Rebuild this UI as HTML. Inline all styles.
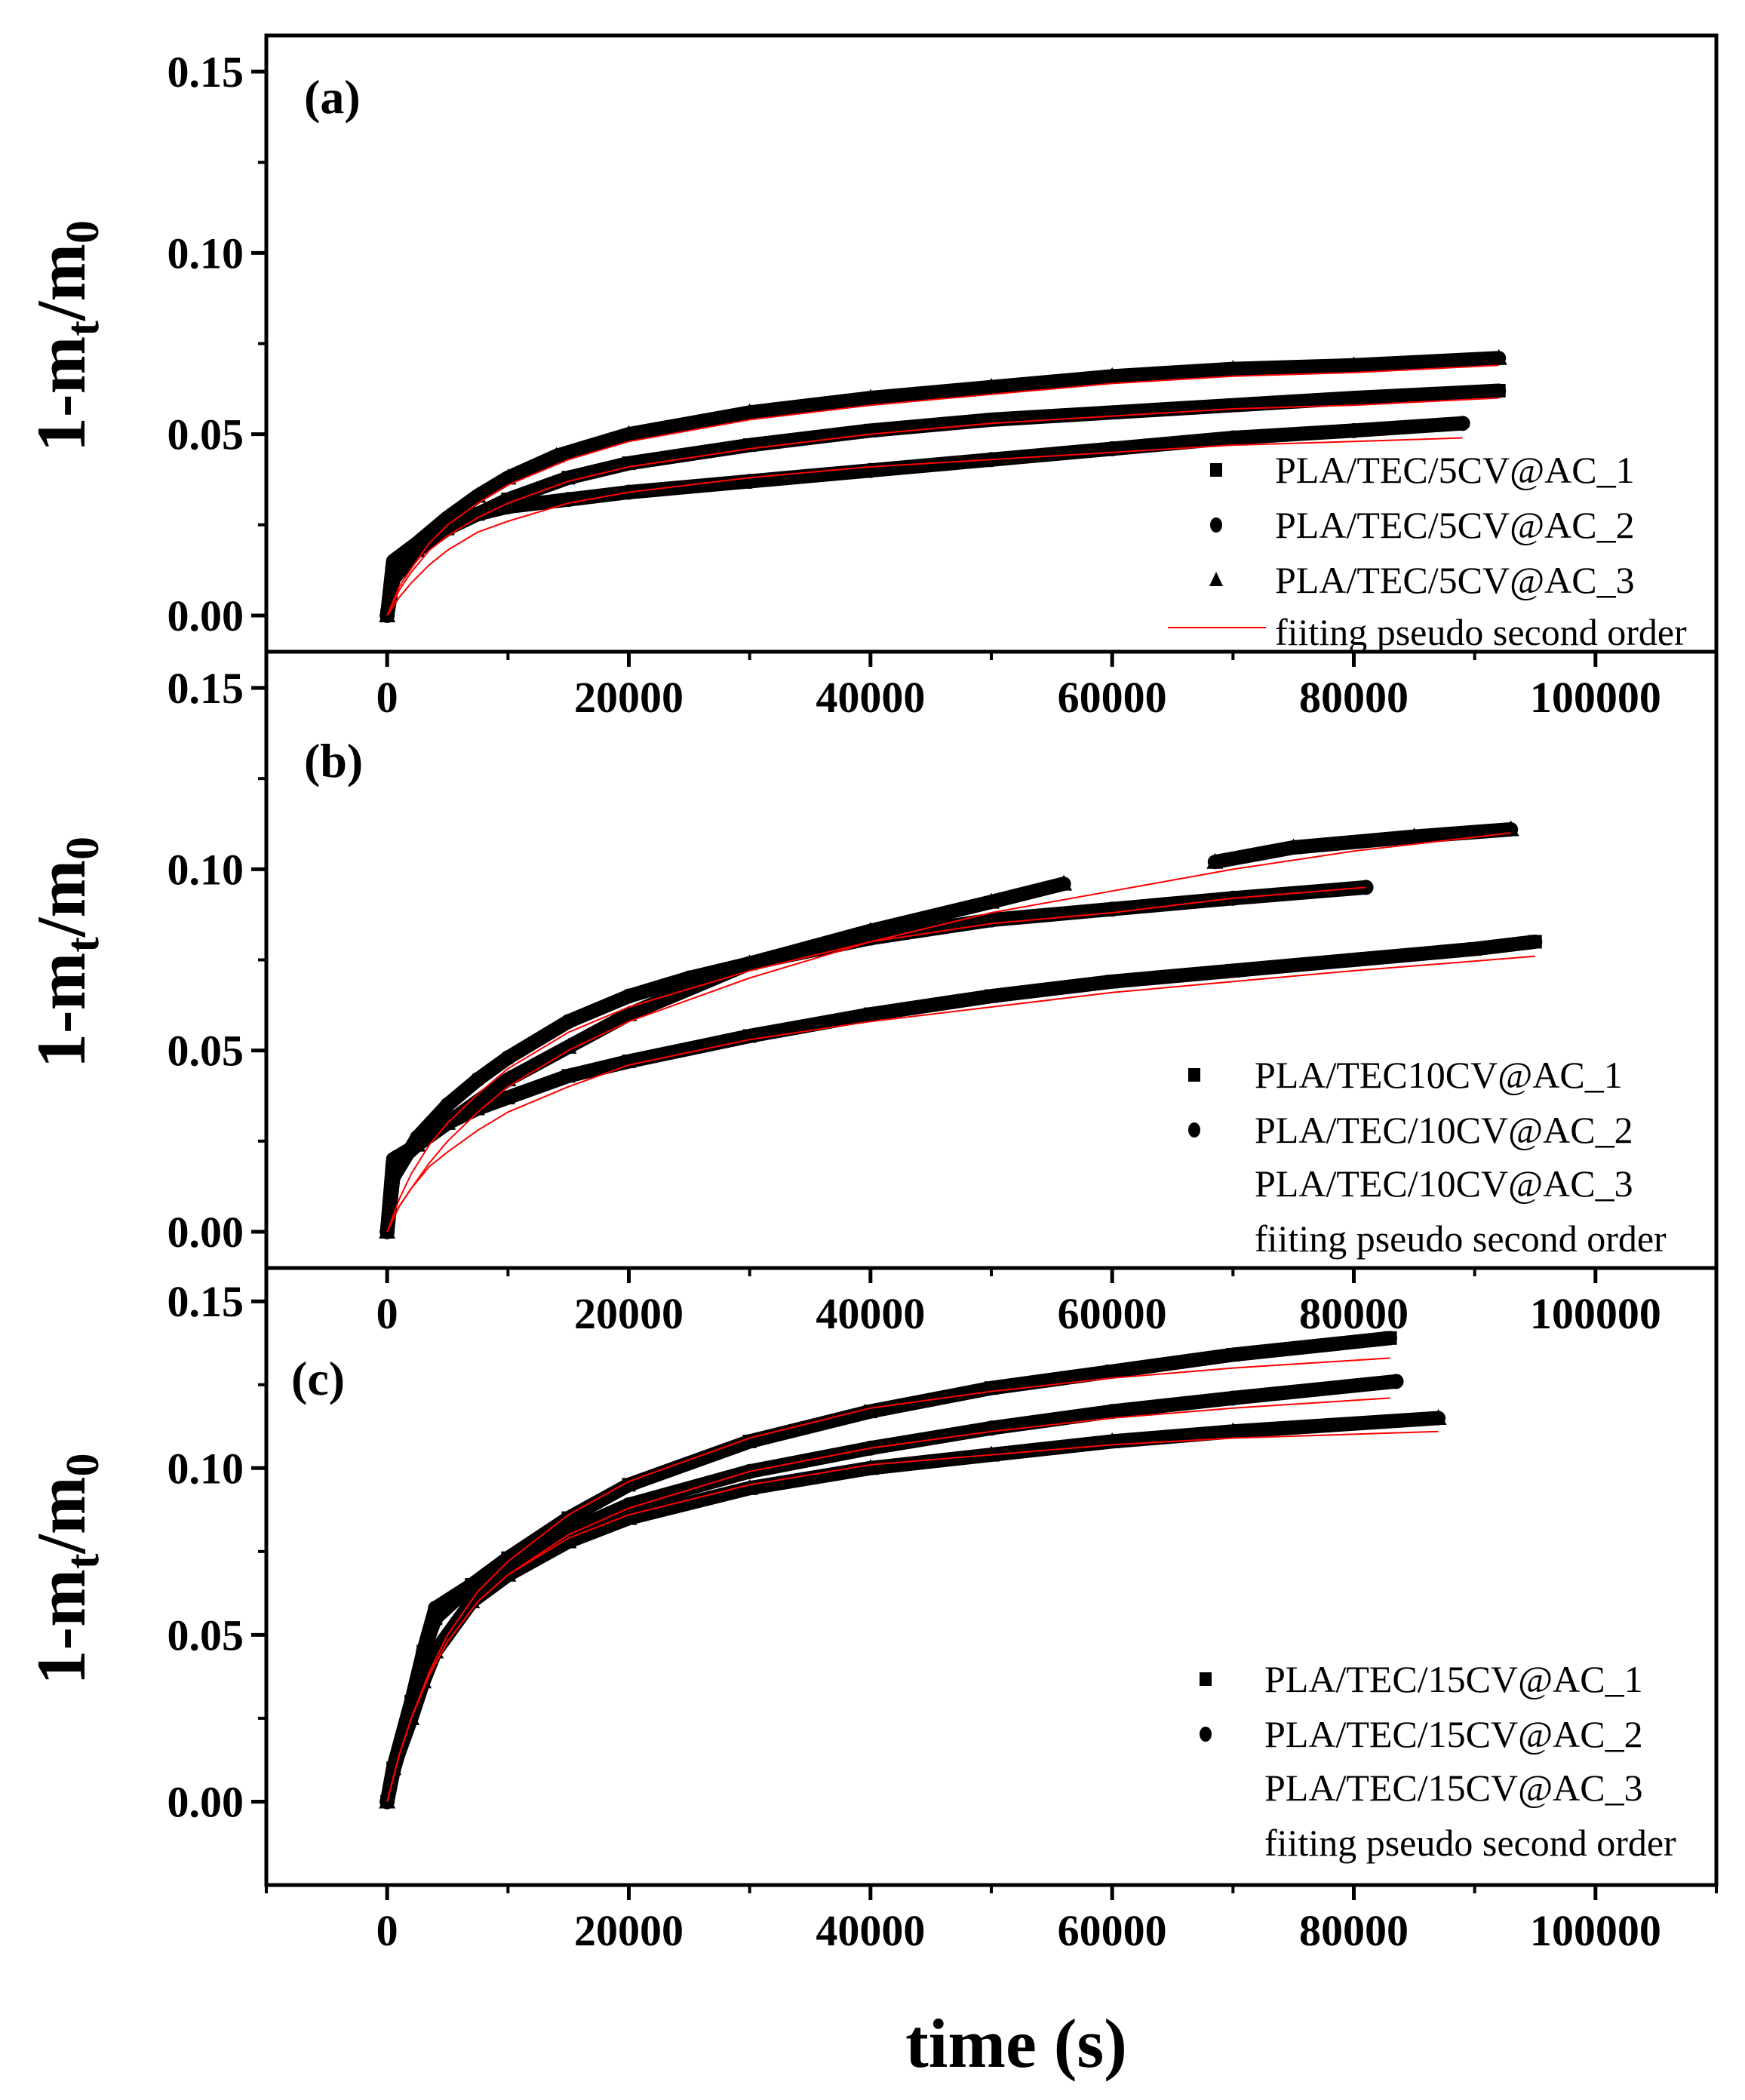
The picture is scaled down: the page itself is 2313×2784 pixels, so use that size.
<!DOCTYPE html>
<html><head><meta charset="utf-8"><style>
html,body{margin:0;padding:0;background:#fff;}
svg{display:block;}
text{font-family:"Liberation Serif",serif;}
</style></head><body>
<svg id="chart" width="2313" height="2784" viewBox="0 0 2313 2784" xmlns="http://www.w3.org/2000/svg"></svg>
<script>
// ---- data (time in s, value 1-mt/m0) ----
// Panel (a)
const aT1 = [0, 500, 2500, 5000, 7500, 10000, 15000, 20000, 30000, 40000, 50000, 60000, 70000, 80000, 92000];
const aV1 = [0, 0.012, 0.018, 0.024, 0.028, 0.032, 0.038, 0.042, 0.047, 0.051, 0.054, 0.056, 0.058, 0.060, 0.062];
const aT2 = [0, 500, 2500, 5000, 7500, 10000, 15000, 20000, 30000, 40000, 50000, 60000, 70000, 80000, 89000];
const aV2 = [0, 0.010, 0.018, 0.024, 0.028, 0.030, 0.032, 0.034, 0.037, 0.040, 0.043, 0.046, 0.049, 0.051, 0.053];
const aT3 = [0, 500, 2500, 5000, 7500, 10000, 14000, 20000, 30000, 40000, 50000, 60000, 70000, 80000, 92000];
const aV3 = [0, 0.015, 0.020, 0.027, 0.033, 0.038, 0.044, 0.050, 0.056, 0.060, 0.063, 0.066, 0.068, 0.069, 0.071];
const aFT1 = [0, 1000, 2000, 3500, 5000, 7500, 10000, 15000, 20000, 30000, 40000, 50000, 60000, 70000, 80000, 92000];
const aFV1 = [0, 0.007, 0.012, 0.018, 0.022, 0.027, 0.031, 0.037, 0.041, 0.046, 0.050, 0.053, 0.055, 0.057, 0.058, 0.060];
const aFT2 = [0, 1000, 2000, 3500, 5000, 7500, 10000, 15000, 20000, 30000, 40000, 50000, 60000, 70000, 80000, 89000];
const aFV2 = [0, 0.005, 0.009, 0.014, 0.018, 0.023, 0.026, 0.031, 0.034, 0.038, 0.041, 0.043, 0.045, 0.047, 0.048, 0.049];
const aFT3 = [0, 1000, 2000, 3500, 5000, 7500, 10000, 15000, 20000, 30000, 40000, 50000, 60000, 70000, 80000, 92000];
const aFV3 = [0, 0.008, 0.013, 0.020, 0.025, 0.031, 0.036, 0.043, 0.048, 0.054, 0.058, 0.061, 0.064, 0.066, 0.067, 0.069];
// Panel (b)
const bT1 = [0, 500, 2500, 5000, 7500, 10000, 15000, 20000, 30000, 40000, 50000, 60000, 70000, 80000, 90000, 95000];
const bV1 = [0, 0.018, 0.024, 0.030, 0.034, 0.037, 0.043, 0.047, 0.054, 0.060, 0.065, 0.069, 0.072, 0.075, 0.078, 0.080];
const bT2 = [0, 500, 2500, 5000, 7500, 10000, 15000, 20000, 25000, 30000, 40000, 50000, 60000, 70000, 81000];
const bV2 = [0, 0.015, 0.026, 0.035, 0.042, 0.048, 0.058, 0.065, 0.070, 0.074, 0.081, 0.086, 0.089, 0.092, 0.095];
const bT3 = [0, 500, 2500, 5000, 7500, 10000, 15000, 20000, 30000, 40000, 50000, 56000, null, 68500, 75000, 85000, 93000];
const bV3 = [0, 0.020, 0.024, 0.030, 0.036, 0.042, 0.051, 0.060, 0.074, 0.083, 0.091, 0.096, null, 0.102, 0.106, 0.109, 0.111];
const bFT1 = [0, 1000, 2000, 3500, 5000, 7500, 10000, 15000, 20000, 30000, 40000, 50000, 60000, 70000, 80000, 95000];
const bFV1 = [0, 0.007, 0.012, 0.018, 0.022, 0.028, 0.033, 0.040, 0.046, 0.053, 0.058, 0.062, 0.066, 0.069, 0.072, 0.076];
const bFT2 = [0, 1000, 2000, 3500, 5000, 7500, 10000, 15000, 20000, 30000, 40000, 50000, 60000, 70000, 81000];
const bFV2 = [0, 0.009, 0.016, 0.024, 0.030, 0.038, 0.045, 0.055, 0.062, 0.072, 0.080, 0.085, 0.088, 0.092, 0.095];
const bFT3 = [0, 1000, 2000, 3500, 5000, 7500, 10000, 15000, 20000, 30000, 40000, 50000, 60000, 70000, 80000, 93000];
const bFV3 = [0, 0.007, 0.012, 0.019, 0.025, 0.033, 0.040, 0.050, 0.058, 0.070, 0.080, 0.088, 0.094, 0.100, 0.105, 0.110];
// Panel (c)
const cT1 = [0, 500, 2000, 3000, 4000, 7000, 10000, 15000, 20000, 30000, 40000, 50000, 60000, 70000, 83000];
const cV1 = [0, 0.010, 0.030, 0.045, 0.055, 0.065, 0.073, 0.085, 0.095, 0.108, 0.117, 0.124, 0.129, 0.134, 0.139];
const cT2 = [0, 500, 2000, 3000, 4000, 7000, 10000, 15000, 20000, 30000, 40000, 50000, 60000, 70000, 83500];
const cV2 = [0, 0.009, 0.028, 0.045, 0.058, 0.065, 0.071, 0.081, 0.089, 0.099, 0.106, 0.112, 0.117, 0.121, 0.126];
const cT3 = [0, 500, 2000, 3000, 4000, 7000, 10000, 15000, 20000, 30000, 40000, 50000, 60000, 70000, 87000];
const cV3 = [0, 0.010, 0.025, 0.036, 0.045, 0.060, 0.068, 0.078, 0.085, 0.094, 0.100, 0.104, 0.108, 0.111, 0.115];
const cFT1 = [0, 1000, 2000, 3500, 5000, 7500, 10000, 15000, 20000, 30000, 40000, 50000, 60000, 70000, 83000];
const cFV1 = [0, 0.014, 0.025, 0.039, 0.050, 0.063, 0.072, 0.086, 0.096, 0.109, 0.118, 0.123, 0.127, 0.130, 0.133];
const cFT2 = [0, 1000, 2000, 3500, 5000, 7500, 10000, 15000, 20000, 30000, 40000, 50000, 60000, 70000, 83000];
const cFV2 = [0, 0.014, 0.025, 0.038, 0.048, 0.060, 0.068, 0.080, 0.088, 0.099, 0.106, 0.111, 0.115, 0.118, 0.121];
const cFT3 = [0, 1000, 2000, 3500, 5000, 7500, 10000, 15000, 20000, 30000, 40000, 50000, 60000, 70000, 87000];
const cFV3 = [0, 0.014, 0.025, 0.038, 0.048, 0.060, 0.068, 0.079, 0.086, 0.095, 0.101, 0.104, 0.107, 0.109, 0.111];
// ticks
const xTicks = [0, 20000, 40000, 60000, 80000, 100000];
const xMinor = [-10000, 10000, 30000, 50000, 70000, 90000, 110000];
const yTicks = [0, 0.05, 0.10, 0.15];
const yTickLabels = ["0.00", "0.05", "0.10", "0.15"];
const yMinor = [0.025, 0.075, 0.125];
const legA = ["PLA/TEC/5CV@AC_1", "PLA/TEC/5CV@AC_2", "PLA/TEC/5CV@AC_3", "fiiting pseudo second order"];
const legB = ["PLA/TEC10CV@AC_1", "PLA/TEC/10CV@AC_2", "PLA/TEC/10CV@AC_3", "fiiting pseudo second order"];
const legC = ["PLA/TEC/15CV@AC_1", "PLA/TEC/15CV@AC_2", "PLA/TEC/15CV@AC_3", "fiiting pseudo second order"];

const NS = "http://www.w3.org/2000/svg";
const svg = document.getElementById("chart");
function mk(tag, attrs, parent) {
  const e = document.createElementNS(NS, tag);
  for (const k in attrs) e.setAttribute(k, attrs[k]);
  (parent || svg).appendChild(e);
  return e;
}
const X0 = 353, X1 = 2275, XMIN = -10000, XMAX = 110000;
function xs(t) { return X0 + (t - XMIN) / (XMAX - XMIN) * (X1 - X0); }

function panel(cfg) {
  const g = mk("g", {});
  
  
  const ys = v => cfg.top + (cfg.ymax - v) / (cfg.ymax - cfg.ymin) * (cfg.bottom - cfg.top);
  yTicks.forEach((v, i) => {
    const y = ys(v);
    const tk = mk("line", {x1: X0 - 20, x2: X0, y1: y, y2: y, stroke: "#000", "stroke-width": 5}, g);
    
    
    const tl = mk("text", {x: X0 - 30, y: y + 20, "text-anchor": "end", "font-size": 58, "font-weight": "bold"}, g);
    tl.textContent = yTickLabels[i];
    
    
  });
  yMinor.forEach(v => {
    const y = ys(v);
    const tk = mk("line", {x1: X0 - 11, x2: X0, y1: y, y2: y, stroke: "#000", "stroke-width": 4}, g);
    
    
  });
  xTicks.forEach(t => {
    const x = xs(t);
    const tk = mk("line", {x1: x, x2: x, y1: cfg.bottom, y2: cfg.bottom + 20, stroke: "#000", "stroke-width": 5}, g);
    
    
    const tl = mk("text", {x: x, y: cfg.bottom + 80, "text-anchor": "middle", "font-size": 58, "font-weight": "bold"}, g);
    tl.textContent = String(t);
    
    
  });
  xMinor.forEach(t => {
    const x = xs(t);
    const tk = mk("line", {x1: x, x2: x, y1: cfg.bottom, y2: cfg.bottom + 11, stroke: "#000", "stroke-width": 4}, g);
    
    
  });
  const shapes = ["square", "circle", "triangle"];
  cfg.series.forEach((s, si) => {
    const sg = mk("g", {}, g);
    
    
    let d = "", pen = false;
    s.t.forEach((t, i) => {
      if (t === null) { pen = false; return; }
      d += (pen ? "L" : "M") + xs(t).toFixed(1) + "," + ys(s.v[i]).toFixed(1);
      pen = true;
    });
    const band = mk("path", {d: d, fill: "none", stroke: "#000", "stroke-width": 19, "stroke-linejoin": "round", "stroke-linecap": "round"}, sg);
    
    
    s.t.forEach((t, i) => {
      if (t === null) return;
      const x = xs(t), y = ys(s.v[i]);
      let m;
      if (shapes[si] === "square") m = mk("rect", {x: x - 9, y: y - 9, width: 18, height: 18, fill: "#000"}, sg);
      else if (shapes[si] === "circle") m = mk("circle", {cx: x, cy: y, r: 10, fill: "#000"}, sg);
      else m = mk("polygon", {points: `${x},${y - 12} ${x - 11},${y + 9} ${x + 11},${y + 9}`, fill: "#000"}, sg);
      
      
    });
  });
  cfg.fits.forEach((f, fi) => {
    let d = "";
    f.t.forEach((t, i) => { d += (i ? "L" : "M") + xs(t).toFixed(1) + "," + ys(f.v[i]).toFixed(1); });
    const p = mk("path", {d: d, fill: "none", stroke: "#ff0000", "stroke-width": 2, "stroke-linejoin": "round"}, g);
    
    
  });
  const fr = mk("rect", {x: X0, y: cfg.top, width: X1 - X0, height: cfg.bottom - cfg.top, fill: "none", stroke: "#000", "stroke-width": 5}, g);
  
  
  const pl = mk("text", {x: cfg.lx, y: cfg.ly, "font-size": 64, "font-weight": "bold"}, g);
  pl.textContent = "(" + cfg.id + ")";
  
  
  const yt = mk("text", {transform: `translate(112,${(cfg.top + cfg.bottom) / 2 - 10}) rotate(-90)`, "text-anchor": "middle", "font-size": 92, "font-weight": "bold"}, g);
  yt.innerHTML = '1-m<tspan font-size="62" dy="18">t</tspan><tspan dy="-18">/m</tspan><tspan font-size="62" dy="18">0</tspan>';
  
  
  const lg = mk("g", {}, g);
  
  
  cfg.leg.forEach((txt, i) => {
    const y = cfg.legY[i];
    const t = mk("text", {x: cfg.legTx, y: y + 17, "font-size": 50}, lg);
    t.textContent = txt;
    
    
    if (i < cfg.legSym) {
      const x = cfg.legSx;
      let m;
      if (i === 0) m = mk("rect", {x: x - 8, y: y - 9, width: 16, height: 18, fill: "#000"}, lg);
      else if (i === 1) m = mk("ellipse", {cx: x, cy: y, rx: 8, ry: 10, fill: "#000"}, lg);
      else m = mk("polygon", {points: `${x},${y - 11} ${x - 9},${y + 8} ${x + 9},${y + 8}`, fill: "#000"}, lg);
      
      
    }
    if (i === 3 && cfg.legLine) {
      const l = mk("line", {x1: 1548, x2: 1678, y1: y - 6, y2: y - 6, stroke: "#ff0000", "stroke-width": 2}, lg);
      
      
    }
  });
}

panel({id: "a", top: 47, bottom: 864, ymin: -0.01, ymax: 0.16, lx: 403, ly: 150,
  series: [{t: aT1, v: aV1}, {t: aT2, v: aV2}, {t: aT3, v: aV3}],
  fits: [{t: aFT1, v: aFV1}, {t: aFT2, v: aFV2}, {t: aFT3, v: aFV3}],
  leg: legA, legY: [623, 696, 769, 838], legSx: 1612, legTx: 1690, legSym: 3, legLine: true});
panel({id: "b", top: 864, bottom: 1681, ymin: -0.01, ymax: 0.16, lx: 403, ly: 1030,
  series: [{t: bT1, v: bV1}, {t: bT2, v: bV2}, {t: bT3, v: bV3}],
  fits: [{t: bFT1, v: bFV1}, {t: bFT2, v: bFV2}, {t: bFT3, v: bFV3}],
  leg: legB, legY: [1425, 1498, 1569, 1642], legSx: 1583, legTx: 1663, legSym: 2, legLine: false});
panel({id: "c", top: 1681, bottom: 2499, ymin: -0.025, ymax: 0.16, lx: 386, ly: 1849,
  series: [{t: cT1, v: cV1}, {t: cT2, v: cV2}, {t: cT3, v: cV3}],
  fits: [{t: cFT1, v: cFV1}, {t: cFT2, v: cFV2}, {t: cFT3, v: cFV3}],
  leg: legC, legY: [2226, 2299, 2370, 2443], legSx: 1598, legTx: 1676, legSym: 2, legLine: false});

const xt = mk("text", {x: 1347, y: 2740, "text-anchor": "middle", "font-size": 92, "font-weight": "bold"});
xt.textContent = "time (s)";


</script>
</body></html>
